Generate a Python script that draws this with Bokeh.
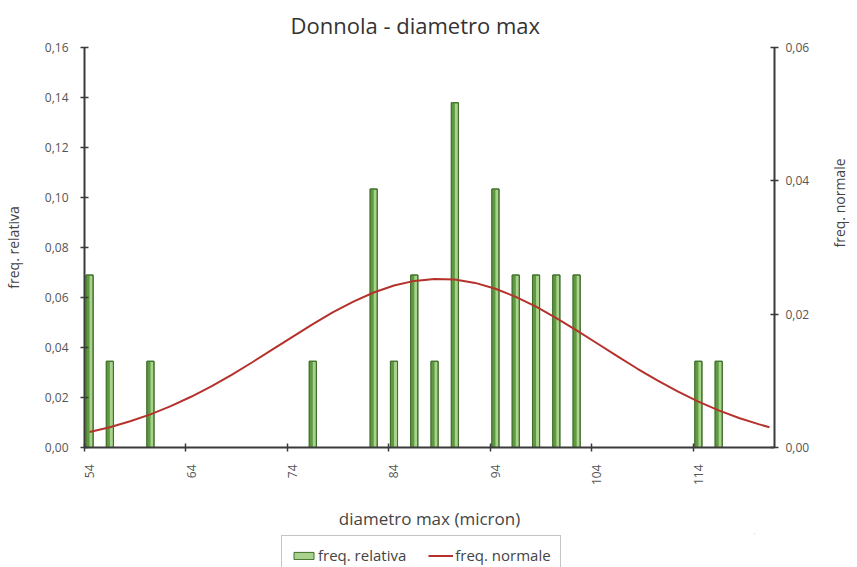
import math
from bokeh.plotting import figure
from bokeh.layouts import column
from bokeh.models import (LinearAxis, Range1d, FixedTicker, CustomJSTickFormatter,
                          Legend, LegendItem)
from bokeh.embed import file_html
from bokeh.resources import INLINE

# ---------------- data ----------------
title_text = "Donnola - diametro max"
x_title = "diametro max (micron)"
y_left_title = "freq. relativa"
y_right_title = "freq. normale"

x_categories_first = 54
x_categories_last = 121
x_label_ticks = [54, 64, 74, 84, 94, 104, 114]

bar_x = [54, 56, 60, 76, 82, 84, 86, 88, 90, 94, 96, 98, 100, 102, 114, 116]
freq_rel = [0.069, 0.0345, 0.0345, 0.0345, 0.1034, 0.0345, 0.069, 0.0345, 0.1379,
            0.1034, 0.069, 0.069, 0.069, 0.069, 0.0345, 0.0345]

norm_x = [54, 56, 58, 60, 62, 64, 66, 68, 70, 72, 74, 76, 78, 80, 82, 84, 86, 88,
          90, 92, 94, 96, 98, 100, 102, 104, 106, 108, 110, 112, 114, 116, 118, 120, 121]
freq_norm = [0.00233, 0.00305, 0.00393, 0.00497, 0.00620, 0.00761, 0.00918, 0.01090,
             0.01275, 0.01467, 0.01660, 0.01850, 0.02029, 0.02189, 0.02325, 0.02429,
             0.02499, 0.02529, 0.02519, 0.02469, 0.02381, 0.02260, 0.02112, 0.01941,
             0.01756, 0.01564, 0.01370, 0.01181, 0.01002, 0.00837, 0.00688, 0.00556,
             0.00443, 0.00347, 0.00305]

left_ticks = [0.0, 0.02, 0.04, 0.06, 0.08, 0.10, 0.12, 0.14, 0.16]
right_ticks = [0.0, 0.02, 0.04, 0.06]

# ---------------- style ----------------
FONT = "Open Sans"
AXIS_COL = "#3a3a3a"
TEXT_COL = "#555555"
LABEL_COL = "#444444"
BAR_FILL = "#a9d28c"
BAR_DARK = "#5f9a43"
BAR_LINE = "#3f6e2a"
LINE_COL = "#b5322c"

x_start = x_categories_first - 0.5
x_end = x_categories_last + 0.5

p = figure(frame_width=690, frame_height=400, output_backend="svg", toolbar_location=None,
           x_range=Range1d(x_start, x_end), y_range=Range1d(left_ticks[0], left_ticks[-1]),
           min_border=0, title=title_text)
p.extra_y_ranges = {"norm": Range1d(right_ticks[0], right_ticks[-1])}
p.outline_line_color = None
p.grid.grid_line_color = None
p.background_fill_color = "white"
p.border_fill_color = "white"

p.title.align = "left"
p.title.offset = 206
p.title.standoff = 15
p.title.text_font = FONT
p.title.text_font_size = "22px"
p.title.text_font_style = "normal"
p.title.text_color = "#333333"

# bars: light body + dark left half + dark outline
bw = 0.7
p.vbar(x=bar_x, top=freq_rel, width=bw, bottom=0, fill_color=BAR_FILL,
       line_color=BAR_LINE, line_width=1)
p.vbar(x=[v - bw / 4 for v in bar_x], top=freq_rel, width=bw / 2, bottom=0,
       fill_color=BAR_DARK, line_color=None)
p.vbar(x=bar_x, top=freq_rel, width=bw, bottom=0, fill_color=None,
       line_color=BAR_LINE, line_width=1)

p.line(x=norm_x, y=freq_norm, y_range_name="norm", line_color=LINE_COL, line_width=2)

# x axis: tick marks at category boundaries
xa = p.xaxis[0]
xa.ticker = FixedTicker(ticks=[t - 0.5 for t in x_label_ticks])
xa.formatter = CustomJSTickFormatter(code="return ''")
xa.major_tick_in = 4
xa.major_tick_out = 4
xa.minor_tick_line_color = None
xa.major_label_standoff = 0
xa.axis_line_color = AXIS_COL
xa.axis_line_width = 2
xa.major_tick_line_color = AXIS_COL
xa.major_tick_line_width = 1.5

# x axis: labels at category centres
xa2 = LinearAxis(ticker=FixedTicker(ticks=x_label_ticks),
                 major_label_orientation=math.pi / 2,
                 axis_line_color=None, major_tick_line_color=None,
                 minor_tick_line_color=None, axis_label=x_title,
                 major_label_standoff=7, axis_label_standoff=19)
xa2.major_label_text_font = FONT
xa2.major_label_text_font_size = "12px"
xa2.major_label_text_color = TEXT_COL
xa2.axis_label_text_font = FONT
xa2.axis_label_text_font_size = "17px"
xa2.axis_label_text_font_style = "normal"
xa2.axis_label_text_color = LABEL_COL
p.add_layout(xa2, "below")

fmt = CustomJSTickFormatter(code="return tick.toFixed(2).replace('.', ',')")

ya = p.yaxis[0]
ya.ticker = FixedTicker(ticks=left_ticks)
ya.formatter = fmt
ya.axis_label = y_left_title

yr = LinearAxis(y_range_name="norm", ticker=FixedTicker(ticks=right_ticks), formatter=fmt,
                axis_label=y_right_title)
p.add_layout(yr, "right")

for ax in (ya, yr):
    ax.major_tick_in = 4
    ax.major_tick_out = 4
    ax.minor_tick_line_color = None
    ax.axis_line_color = AXIS_COL
    ax.axis_line_width = 2
    ax.major_tick_line_color = AXIS_COL
    ax.major_tick_line_width = 1.5
    ax.major_label_text_font = FONT
    ax.major_label_text_font_size = "12px"
    ax.major_label_text_color = TEXT_COL
    ax.axis_label_text_font = FONT
    ax.axis_label_text_font_size = "14px"
    ax.axis_label_text_font_style = "normal"
    ax.axis_label_text_color = LABEL_COL
ya.major_label_standoff = 12
ya.axis_label_standoff = 19
yr.major_label_standoff = 7
yr.axis_label_standoff = 27
yr.axis_label_orientation = math.pi / 2

# ---------------- legend strip below the chart ----------------
q = figure(width=841, height=34, output_backend="svg", toolbar_location=None,
           x_axis_location=None, y_axis_location=None, min_border=0,
           x_range=Range1d(0, 1), y_range=Range1d(0, 1))
q.outline_line_color = None
q.grid.visible = False
q.background_fill_color = "white"
q.border_fill_color = "white"
# legend-only renderers (their single point lies outside the strip's ranges)
leg_bar = q.vbar(x=[10], top=[11], bottom=[10], width=bw, fill_color=BAR_FILL,
                 line_color=BAR_LINE)
leg_line = q.line(x=[10, 11], y=[10, 10], line_color=LINE_COL, line_width=2)

legend = Legend(items=[LegendItem(label=y_left_title, renderers=[leg_bar]),
                       LegendItem(label=y_right_title, renderers=[leg_line])],
                orientation="horizontal", location=(197, -8), margin=0,
                label_text_font=FONT, label_text_font_size="15px",
                label_text_color=LABEL_COL, glyph_width=25, glyph_height=9,
                label_standoff=2, spacing=22, padding=9,
                border_line_color="#8a8a8a", border_line_width=1.5,
                background_fill_color="white")
q.add_layout(legend, "center")

open("out.html", "w").write(file_html(column(p, q, spacing=0), INLINE))
